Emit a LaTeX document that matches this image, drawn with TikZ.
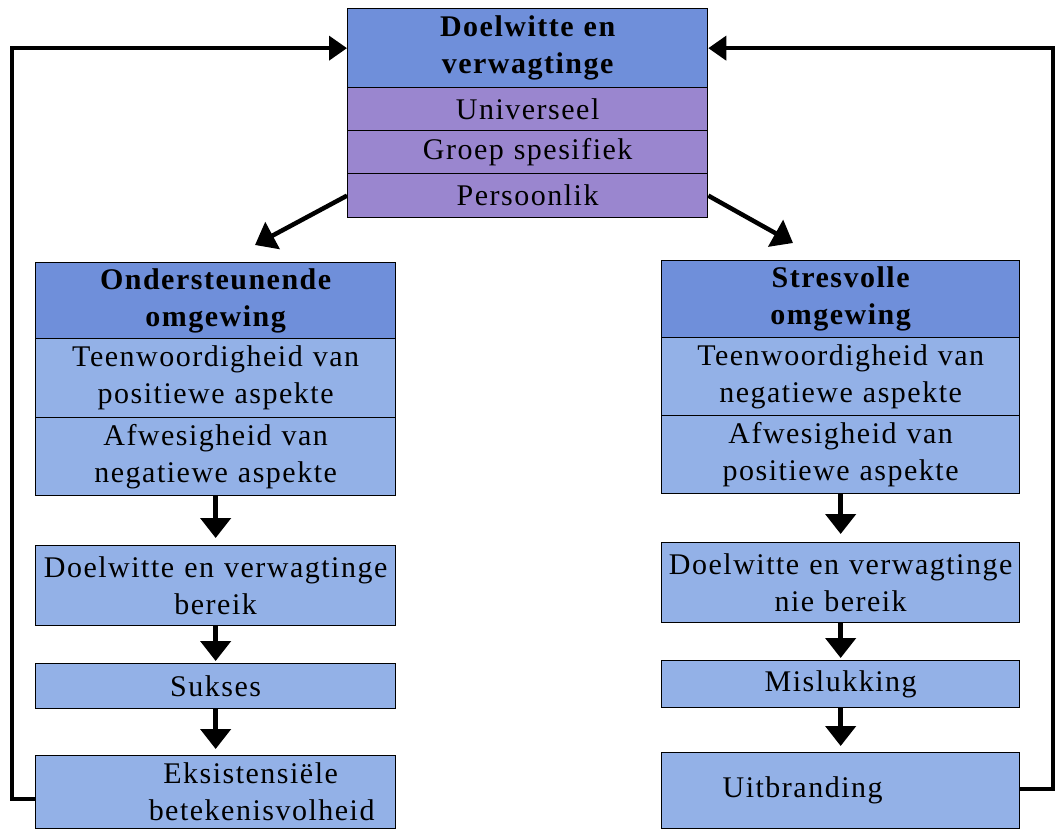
\documentclass[tikz,border=0pt]{standalone}
\usepackage{fontspec}
\setmainfont[LetterSpace=5]{Liberation Serif}
\usetikzlibrary{arrows.meta}
\definecolor{hdr}{HTML}{6F8FDA}
\definecolor{purp}{HTML}{9A86CF}
\definecolor{lite}{HTML}{93B1E7}
\tikzset{
  cell/.style={draw=black, line width=1.3pt, anchor=north west, inner sep=0pt,
    minimum width=360pt, text width=356pt, align=center,
    font=\fontsize{30}{37}\selectfont},
  hcell/.style={cell, fill=hdr, font=\fontsize{30}{37}\selectfont\bfseries},
  pcell/.style={cell, fill=purp},
  lcell/.style={cell, fill=lite},
  arr/.style={line width=4.5pt, -{Triangle[width=30pt,length=20pt]}},
  loopline/.style={line width=4pt, -{Triangle[width=24pt,length=18pt]}}
}
\begin{document}
\begin{tikzpicture}[x=1pt,y=-1pt]
\useasboundingbox (0,0) rectangle (1056,830);
% top block
\node[hcell, minimum height=79pt] (th) at (347,8) {Doelwitte en\\verwagtinge};
\node[pcell, minimum height=43pt] (tu) at (347,87) {Universeel};
\node[pcell, minimum height=43pt] (tg) at (347,130) {Groep spesifiek};
\node[pcell, minimum height=44pt] (tp) at (347,173) {Persoonlik};
% left column
\node[hcell, minimum height=76pt] (lh) at (35,262) {Ondersteunende\\omgewing};
\node[lcell, minimum height=79pt] (lt) at (35,338) {Teenwoordigheid van\\positiewe aspekte};
\node[lcell, minimum height=78pt] (la) at (35,417) {Afwesigheid van\\negatiewe aspekte};
\node[lcell, minimum height=80pt] (ld) at (35,545) {Doelwitte en verwagtinge\\bereik};
\node[lcell, minimum height=45pt] (ls) at (35,663) {Sukses};
\node[lcell, minimum height=73pt] (le) at (35,755) {\hspace*{70pt}Eksistensiële\\\hspace*{92pt}betekenisvolheid};
% right column
\node[hcell, minimum height=77pt, minimum width=358pt, text width=354pt] (rh) at (661,260) {Stresvolle\\omgewing};
\node[lcell, minimum height=78pt, minimum width=358pt, text width=354pt] (rt) at (661,337) {Teenwoordigheid van\\negatiewe aspekte};
\node[lcell, minimum height=78pt, minimum width=358pt, text width=354pt] (ra) at (661,415) {Afwesigheid van\\positiewe aspekte};
\node[lcell, minimum height=80pt, minimum width=358pt, text width=354pt] (rd) at (661,542) {Doelwitte en verwagtinge\\nie bereik};
\node[lcell, minimum height=47pt, minimum width=358pt, text width=354pt] (rm) at (661,660) {Mislukking};
\node[lcell, minimum height=76pt, minimum width=358pt, text width=354pt] (ru) at (661,752) {\hspace*{-76pt}Uitbranding};
% diagonal arrows
\coordinate (dl) at (255,245);
\coordinate (dr) at (793,243);
\draw[arr] (tp.west) -- (dl);
\draw[arr] (tp.east) -- (dr);
% vertical arrows
\draw[arr, shorten >=7pt] (la.south) -- (ld.north);
\draw[arr, shorten >=2pt] (ld.south) -- (ls.north);
\draw[arr, shorten >=6pt] (ls.south) -- (le.north);
\draw[arr, shorten >=8pt] (ra.south) -- (rd.north);
\draw[arr, shorten >=2pt] (rd.south) -- (rm.north);
\draw[arr, shorten >=6pt] (rm.south) -- (ru.north);
% feedback loops
\coordinate (ls0) at ([yshift=-7pt]le.west);
\coordinate (rs0) at ([yshift=2pt]ru.east);
\coordinate (L) at (12,0);
\coordinate (R) at (1053,0);
\draw[loopline] (ls0) -- (L |- ls0) -- (L |- th.west) -- (th.west);
\draw[loopline] (rs0) -- (R |- rs0) -- (R |- th.east) -- (th.east);
\end{tikzpicture}
\end{document}
